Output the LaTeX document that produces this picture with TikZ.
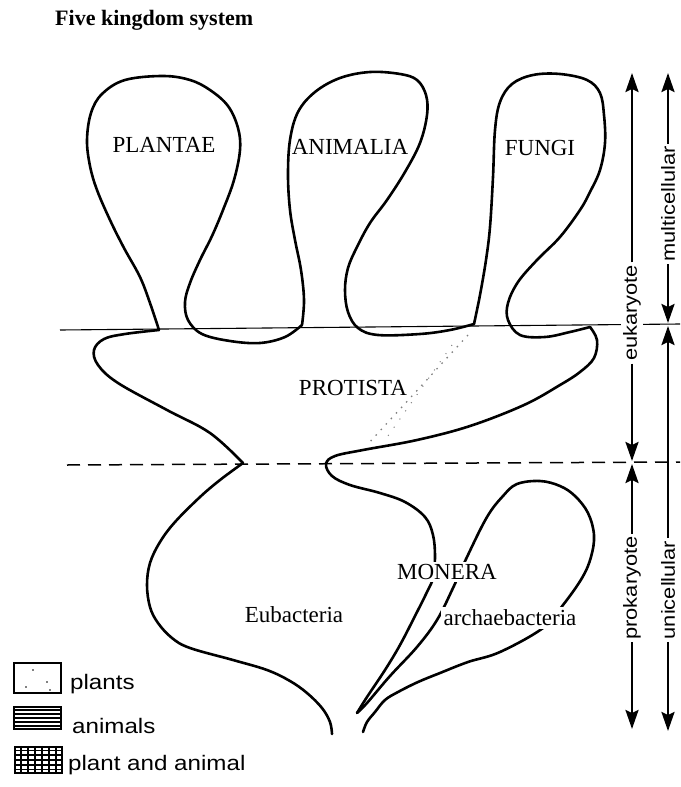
\documentclass[tikz,border=0pt]{standalone}
\usepackage{fontspec}
\setmainfont{Liberation Serif}
\newfontfamily\sidefont{Liberation Sans}[FakeStretch=1.15]
\usepackage{tikz}
\usetikzlibrary{calc, arrows.meta}
\colorlet{ink}{black}
\colorlet{speck}{black!50}
\tikzset{
  outline/.style={draw=ink, line width=2.6pt, line cap=round, line join=round},
  kingdom/.style={font=\fontsize{23}{25}\selectfont, inner sep=0pt},
  cutlabel/.style={kingdom, fill=white, inner sep=2.5pt},
  sidelabel/.style={font=\sidefont\fontsize{19}{21}\selectfont, rotate=90,
    fill=white, inner sep=2.5pt},
  sidearrow/.style={draw=ink, line width=2.4pt,
    -{Stealth[length=19pt, width=13pt, inset=3pt]}},
  legendbox/.style={draw=ink, line width=2.2pt, minimum width=47pt, inner sep=0pt},
  legendtext/.style={font=\sidefont\fontsize{21}{23}\selectfont,
    anchor=base west, inner sep=0pt},
}

\begin{document}
\begin{tikzpicture}[x=1pt, y=-1pt]
\useasboundingbox (0,0) rectangle (680,787);
% title
\node[font=\bfseries\fontsize{22}{24}\selectfont, anchor=base west, inner sep=0pt]
  (title) at (55,25) {Five kingdom system};
% level lines
\draw[ink, line width=1.1pt] (60,330) -- (680,324);
\draw[ink, line width=1.5pt, dash pattern=on 13pt off 8pt] (67,465) -- (680,462);
% stippling left over inside protista
\draw[speck, line width=1.3pt, dash pattern=on 1.5pt off 6pt] (468,335) -- (367,445);
\draw[speck, line width=1pt, dash pattern=on 1pt off 9pt] (452,345) -- (383,443);
% protista, left side (neck up to plantae)
\draw[outline] plot[smooth, tension=0.6] coordinates {
  (243,463) (210,433) (167,410) (118,383) (98,365) (94,350) (104,339)
  (125,334) (159,330)};
% plantae
\draw[outline] plot[smooth, tension=0.6] coordinates {
  (159,330) (150,303) (140,277) (124,248) (110,220) (97,190) (90,166)
  (87,140) (91,113) (102,94) (125,80) (163,76) (190,80) (210,90) (228,106)
  (238,128) (240,150) (234,180) (223,210) (212,236) (200,260) (190,283)
  (185,302) (188,320) (202,334) (230,341) (260,343) (285,337) (302,325)};
% animalia
\draw[outline] plot[smooth, tension=0.6] coordinates {
  (302,325) (304,300) (301,270) (295,240) (290,210) (288,175) (290,140)
  (298,112) (315,92) (340,78) (370,72) (400,74) (417,80) (426,95) (427,115)
  (420,143) (405,172) (387,200) (370,223) (357,247) (348,268) (345,290)
  (348,312) (358,328) (378,335) (420,334) (450,330) (474,324)};
% fungi
\draw[outline] plot[smooth, tension=0.6] coordinates {
  (474,324) (480,295) (486,260) (490,227) (493,177) (495,130) (500,102)
  (512,84) (533,75) (560,74) (587,80) (600,93) (604,115) (605,143)
  (600,170) (590,192) (580,210) (560,237) (537,260) (518,282) (508,303)
  (508,320) (520,335) (545,337) (570,332) (590,327)};
% protista, right side down into monera
\draw[outline] plot[smooth, tension=0.6] coordinates {
  (590,327) (597,340) (594,358) (580,372) (560,385) (524,405) (470,426)
  (417,440) (363,450) (335,456) (326,464) (332,476) (350,485) (380,493)
  (405,502) (425,517) (433,535) (435,557) (433,578) (427,592) (415,616)
  (400,645) (385,670) (367,697) (357,713)};
% archaebacteria lobe
\draw[outline] plot[smooth, tension=0.6] coordinates {
  (357,713) (367,703) (390,676) (417,647) (437,620) (453,588) (467,557)
  (487,517) (503,496) (517,484) (540,481) (560,486) (575,496) (588,513)
  (594,535) (591,557) (582,578) (563,605) (543,628) (500,652) (468,662)
  (440,673) (418,682) (398,692) (385,700) (375,712) (367,722) (363,732)};
% eubacteria side
\draw[outline] plot[smooth, tension=0.6] coordinates {
  (243,463) (220,480) (200,497) (175,522) (160,542) (150,563) (147,585)
  (150,607) (158,623) (172,638) (190,648) (233,660) (267,670) (290,681)
  (307,693) (322,708) (330,722) (332,734)};
% kingdom labels
\node[kingdom] (plantae)  at (164,145) {PLANTAE};
\node[kingdom] (animalia) at (350,147) {ANIMALIA};
\node[kingdom] (fungi)    at (540,148) {FUNGI};
\node[kingdom] (protista) at (353,388) {PROTISTA};
\node[cutlabel] (monera)  at (447,572) {MONERA};
\node[kingdom] (eubact)   at (294,615) {Eubacteria};
\node[cutlabel] (archae)  at (510,618) {archaebacteria};
% side arrows
\coordinate (eutop)  at (632,73);
\coordinate (eubot)  at (632,461);
\coordinate (protop) at (632,464);
\coordinate (probot) at (632,729);
\coordinate (multop) at (668,73);
\coordinate (mulbot) at (668,323);
\coordinate (unitop) at (668,326);
\coordinate (unibot) at (668,731);
\node[sidelabel] (eukar)  at (632,313) {eukaryote};
\node[sidelabel] (prokar) at (632,588) {prokaryote};
\node[sidelabel] (multi)  at (668,204) {multicellular};
\node[sidelabel] (uni)    at (668,590) {unicellular};
\draw[sidearrow] (eukar) -- (eutop);
\draw[sidearrow] (eukar) -- (eubot);
\draw[sidearrow] (prokar) -- (protop);
\draw[sidearrow] (prokar) -- (probot);
\draw[sidearrow] (multi) -- (multop);
\draw[sidearrow] (multi) -- (mulbot);
\draw[sidearrow] (uni) -- (unitop);
\draw[sidearrow] (uni) -- (unibot);
% legend
\node[legendbox, minimum height=30pt] (plantsbox)  at (37.5,678) {};
\node[legendbox, minimum height=22pt] (animalsbox) at (37.5,718) {};
\node[legendbox, minimum height=26pt] (bothbox)    at (38.5,760) {};
\foreach \p in {(26,687), (47,682), (50,690), (33,670)}
  \fill[ink] \p circle (0.9pt);
\foreach \k in {1,...,5}
  \draw[ink, line width=1.2pt]
    ($(animalsbox.north west)!\k/6!(animalsbox.south west)$) --
    ($(animalsbox.north east)!\k/6!(animalsbox.south east)$);
\foreach \k in {1,...,5}
  \draw[ink, line width=1.7pt]
    ($(bothbox.north west)!\k/6!(bothbox.south west)$) --
    ($(bothbox.north east)!\k/6!(bothbox.south east)$);
\foreach \k in {1,...,6}
  \draw[ink, line width=1.7pt]
    ($(bothbox.north west)!\k/7!(bothbox.north east)$) --
    ($(bothbox.south west)!\k/7!(bothbox.south east)$);
\node[legendtext] (plantstext)  at (70,689) {plants};
\node[legendtext] (animalstext) at (72,733) {animals};
\node[legendtext] (bothtext)    at (68,770) {plant and animal};
\end{tikzpicture}
\end{document}
